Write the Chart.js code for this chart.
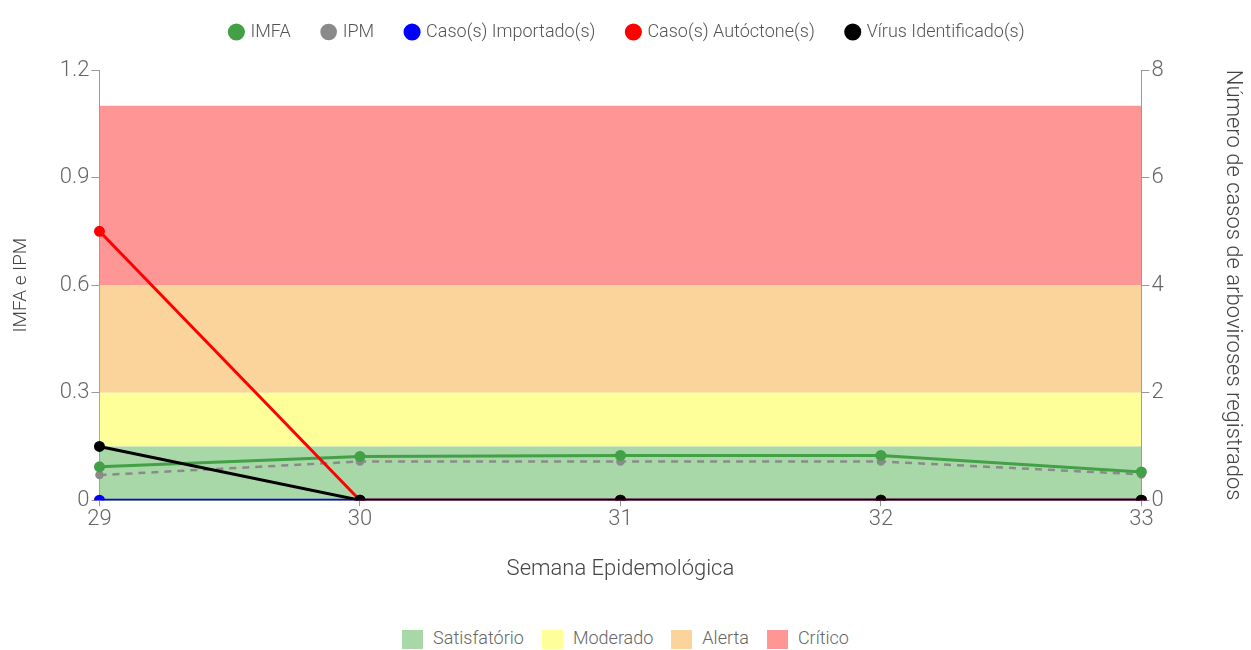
<!DOCTYPE html>
<html>
<head>
  <title>IMFA e IPM</title>
  <script src="https://cdn.jsdelivr.net/npm/chart.js"></script>
  <style>
    body { margin: 0; background: #fff; font-family: Roboto, sans-serif; }
    #wrap { position: relative; width: 1251px; height: 650px; }
    #faixas { position: absolute; left: 0; width: 1251px; top: 627px; text-align: center; font-size: 18px; font-weight: 300; color: #666; line-height: 20px; }
    #faixas span { display: inline-block; margin: 0 9px; vertical-align: middle; }
    #faixas i { display: inline-block; width: 21px; height: 19px; margin-right: 10px; vertical-align: middle; }
  </style>
</head>
<body>
  <div id="wrap">
    <canvas id="grafico" width="1251" height="610"></canvas>
    <div id="faixas"></div>
  </div>
  <script>
    const semanas = ['29', '30', '31', '32', '33'];
    const imfa = [0.093, 0.122, 0.125, 0.125, 0.079];
    const ipm = [0.07, 0.108, 0.108, 0.108, 0.072];
    const importados = [0, 0, 0, 0, 0];
    const autoctones = [5, 0, 0, 0, 0];
    const virus = [1, 0, 0, 0, 0];

    // limites das faixas (IMFA/IPM)
    const faixaNomes = ['Satisfatório', 'Moderado', 'Alerta', 'Crítico'];
    const faixaLimites = [0.15, 0.3, 0.6, 1.1];
    const faixaCores = ['#a8d8a8', '#ffff99', '#fad49a', '#fe9696'];

    const faixaDatasets = faixaLimites.map((lim, i) => ({
      label: faixaNomes[i],
      data: semanas.map(() => lim),
      yAxisID: 'y',
      borderWidth: 0,
      pointRadius: 0,
      backgroundColor: faixaCores[i],
      fill: i === 0 ? 'origin' : '-1',
      order: 10,
      faixa: true
    }));

    const serie = (label, data, cor, eixo, ordem, extra) => Object.assign({
      label, data, yAxisID: eixo,
      borderColor: cor, backgroundColor: cor,
      borderWidth: 3, pointRadius: 4, pointHoverRadius: 5,
      fill: false, tension: 0, order: ordem
    }, extra || {});

    const fonte = (size, weight) => ({ family: 'Roboto', size, weight: weight || 300 });

    // ajusta a altura da legenda de cima
    const legendaAltura = {
      id: 'legendaAltura',
      beforeInit(chart) {
        const fit = chart.legend.fit;
        chart.legend.fit = function () {
          fit.call(this);
          this.height = 80;
        };
      }
    };

    const ctx = document.getElementById('grafico').getContext('2d');
    new Chart(ctx, {
      type: 'line',
      data: {
        labels: semanas,
        datasets: [
          ...faixaDatasets,
          serie('IMFA', imfa, '#43a047', 'y', 4),
          serie('IPM', ipm, '#8a8a8a', 'y', 5, { borderDash: [7, 6], borderWidth: 2.5, pointRadius: 3 }),
          serie('Caso(s) Importado(s)', importados, '#0000ff', 'y1', 3),
          serie('Caso(s) Autóctone(s)', autoctones, '#ff0000', 'y1', 2),
          serie('Vírus Identificado(s)', virus, '#000000', 'y1', 1)
        ]
      },
      plugins: [legendaAltura],
      options: {
        responsive: false,
        animation: false,
        layout: { padding: { left: 10, right: 5, top: -10, bottom: 27 } },
        plugins: {
          tooltip: { enabled: false },
          legend: {
            position: 'top',
            labels: {
              usePointStyle: true,
              pointStyle: 'circle',
              boxWidth: 10, boxHeight: 10,
              padding: 33,
              color: '#555',
              font: fonte(18),
              filter: (item, data) => !data.datasets[item.datasetIndex].faixa,
              sort: (a, b) => a.datasetIndex - b.datasetIndex
            }
          }
        },
        scales: {
          x: {
            offset: false,
            grid: { drawOnChartArea: false, drawTicks: true, tickLength: 6, color: '#999' },
            border: { color: '#999' },
            ticks: { color: '#666', font: fonte(22), padding: 0, maxRotation: 0 },
            title: { display: true, text: 'Semana Epidemológica', color: '#444', font: fonte(22), padding: { top: 24, bottom: 0 } }
          },
          y: {
            position: 'left',
            min: 0, max: 1.2,
            ticks: { stepSize: 0.3, color: '#666', font: fonte(22), padding: 2 },
            grid: { drawOnChartArea: false, tickLength: 8, color: '#999' },
            border: { color: '#999' },
            title: { display: true, text: 'IMFA e IPM', color: '#444', font: fonte(19), padding: { top: 0, bottom: 25 } }
          },
          y1: {
            position: 'right',
            min: 0, max: 8,
            ticks: { stepSize: 2, color: '#666', font: fonte(22), padding: 2 },
            grid: { drawOnChartArea: false, tickLength: 8, color: '#999' },
            border: { color: '#999' },
            title: { display: true, text: 'Número de casos de arboviroses registrados', color: '#444', font: fonte(22), padding: { top: 0, bottom: 54 } }
          }
        }
      }
    });

    // legenda das faixas
    document.getElementById('faixas').innerHTML = faixaNomes.map((n, i) =>
      '<span><i style="background:' + faixaCores[i] + '"></i>' + n + '</span>').join('');
  </script>
</body>
</html>
